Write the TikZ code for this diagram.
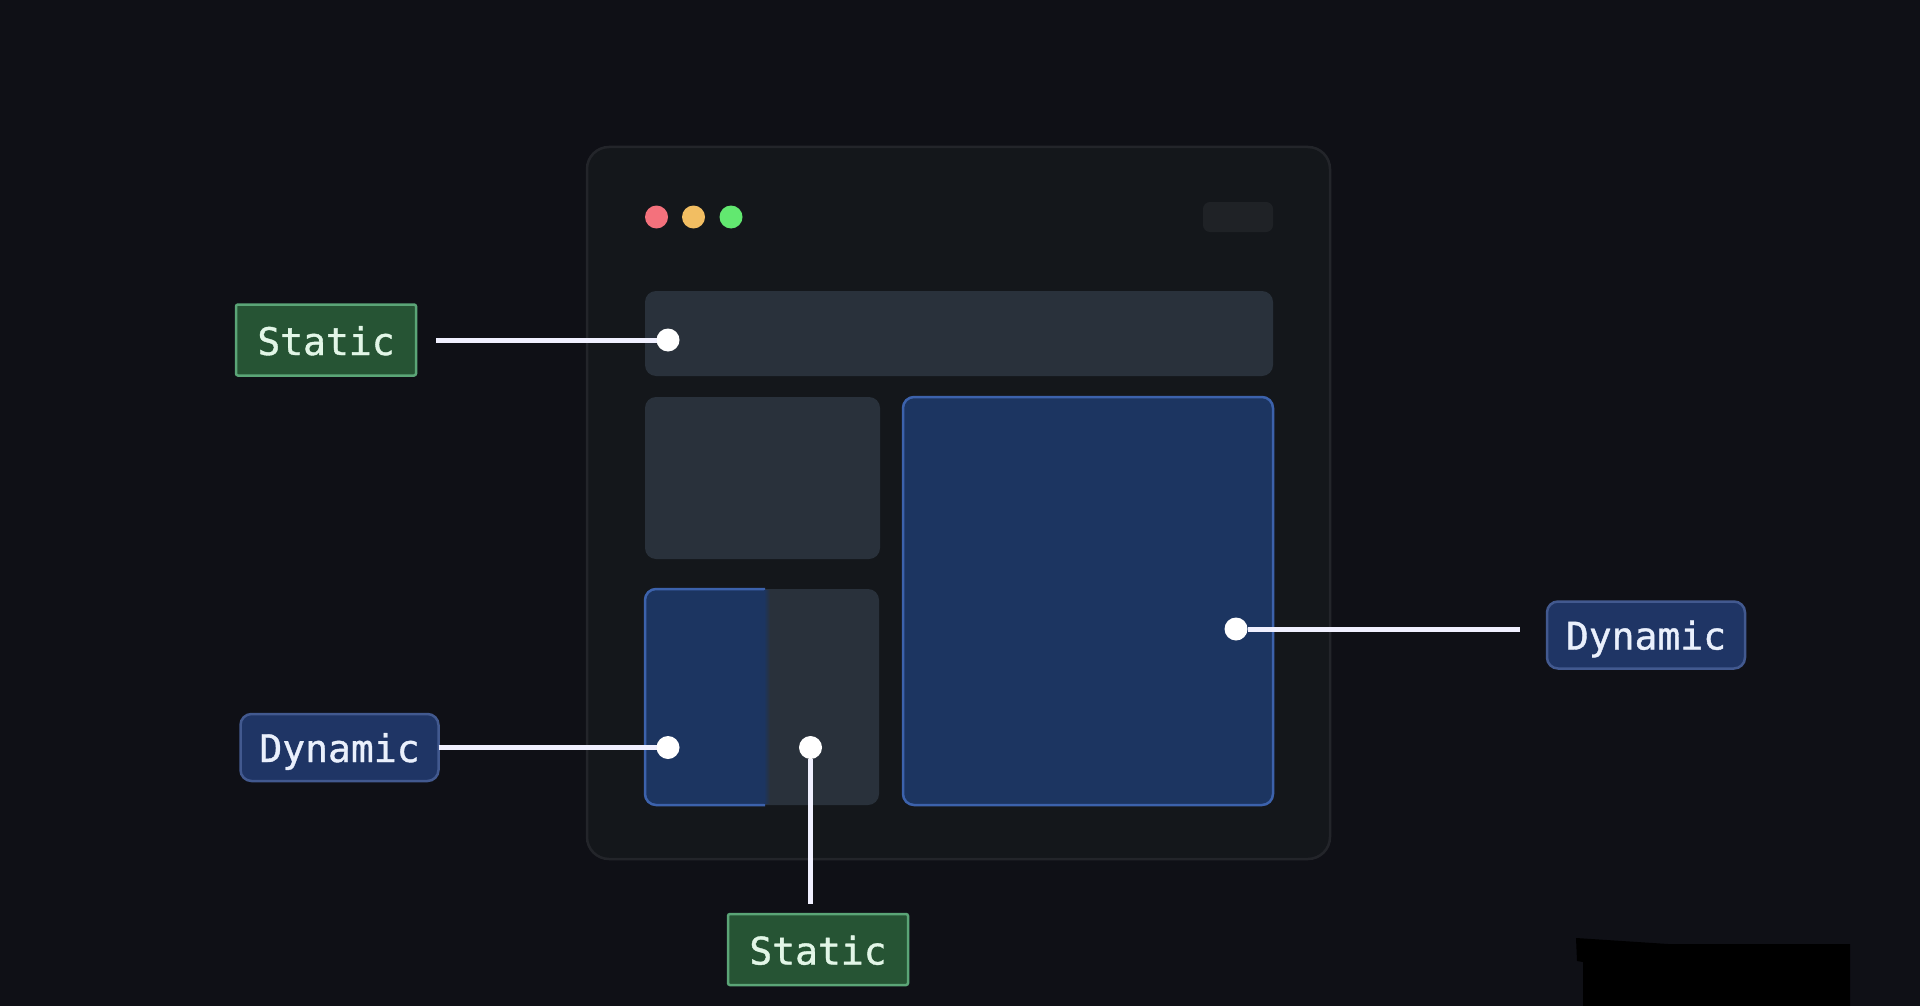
\documentclass[tikz,border=0pt]{standalone}
\usepackage{fontspec}
\newfontfamily\labelfont[FakeBold=1]{DejaVu Sans Mono}
\usepackage{tikz}
\definecolor{PageBg}{HTML}{0F1016}
\definecolor{WindowBg}{HTML}{14171B}
\definecolor{WindowLine}{HTML}{23252A}
\definecolor{PillBg}{HTML}{1F2226}
\definecolor{PanelBg}{HTML}{29313B}
\definecolor{BlueBg}{HTML}{1C3561}
\definecolor{BlueLine}{HTML}{3C62AC}
\definecolor{StaticBg}{HTML}{265434}
\definecolor{StaticLine}{HTML}{5BA577}
\definecolor{StaticText}{HTML}{E2F6E7}
\definecolor{DynamicBg}{HTML}{1F3565}
\definecolor{DynamicLine}{HTML}{42598F}
\definecolor{DynamicText}{HTML}{EAF0FC}
\tikzstyle{box}       = [rectangle, inner sep=0pt, outer sep=0pt]
\tikzstyle{window}    = [box, minimum width=743pt, minimum height=712pt, rounded corners=22pt, fill=WindowBg, draw=WindowLine, line width=2.5pt]
\tikzstyle{panel}     = [box, rounded corners=11pt, fill=PanelBg]
\tikzstyle{bluepanel} = [box, rounded corners=11pt, fill=BlueBg, draw=BlueLine, line width=2.5pt]
\tikzstyle{light}     = [circle, inner sep=0pt, minimum size=23pt]
\tikzstyle{knob}      = [circle, inner sep=0pt, outer sep=0pt, minimum size=23pt, fill=white]
\tikzstyle{static}    = [box, minimum width=180pt, minimum height=71pt, rounded corners=2pt, fill=StaticBg, draw=StaticLine, line width=2.5pt, text=StaticText, text height=30pt, text depth=0pt, font=\labelfont\fontsize{38}{40}\selectfont]
\tikzstyle{dynamic}   = [box, minimum width=198pt, minimum height=67pt, rounded corners=11pt, fill=DynamicBg, draw=DynamicLine, line width=2.5pt, text=DynamicText, text height=29pt, text depth=0pt, font=\labelfont\fontsize{38}{40}\selectfont]
\tikzstyle{wire}      = [line width=5pt, white!94!blue]

\begin{document}
\begin{tikzpicture}[x=1pt, y=-1pt]
  \useasboundingbox (0,0) rectangle (1920,1006);
  \fill[PageBg] (0,0) rectangle (1920,1006);
  \fill[black] (1576,938) -- (1668,944) -- (1850,944) -- (1850,1006) -- (1583,1006) -- (1583,962) -- (1577,961) -- cycle;

  \node[window] (Window) at (958.5,503) {};
  \foreach \x/\c/\n in {656.5/F4717C/Red, 693.5/F2BE62/Yellow, 731/62E870/Green} {
      \definecolor{LightBg}{HTML}{\c}
      \node[light, fill=LightBg] (\n) at (\x,217) {};
  }
  \node[box, minimum width=70pt, minimum height=30pt, rounded corners=7pt, fill=PillBg] (Pill) at (1238,217) {};

  \node[panel, minimum width=628pt, minimum height=85pt] (TopBar) at (959,333.5) {};
  \node[panel, minimum width=235pt, minimum height=162pt] (SidePanel) at (762.5,478) {};
  \node[panel, minimum width=234pt, minimum height=216pt] (LowerPanel) at (762,697) {};
  \filldraw[BlueBg, draw=BlueLine, line width=2.5pt] (765,589) [rounded corners=11pt] -- (645,589) -- (645,805) [sharp corners] -- (765,805);
  \shade[left color=BlueBg, right color=PanelBg] (764,590.3) rectangle (770,803.7);
  \node[bluepanel, minimum width=370pt, minimum height=408pt] (MainPanel) at (1088,601) {};

  \node[static] (StaticTop) at (326,340) {Static};
  \node[static] (StaticBottom) at (818,949.5) {Static};
  \node[dynamic] (DynamicLeft) at (339.5,747.5) {Dynamic};
  \node[dynamic] (DynamicRight) at (1646,635) {Dynamic};

  \node[knob] (KnobTop) at (668,340) {};
  \node[knob] (KnobLeft) at (668,747.5) {};
  \node[knob] (KnobMiddle) at (810.5,747.5) {};
  \node[knob] (KnobRight) at (1236,629) {};

  \coordinate (StaticTopEnd) at (436,340);
  \coordinate (StaticBottomEnd) at (810.5,904);
  \coordinate (DynamicRightEnd) at (1520,629);
  \draw[wire] (StaticTopEnd) -- (KnobTop);
  \draw[wire] (DynamicLeft.east) -- (KnobLeft);
  \draw[wire] (KnobMiddle) -- (StaticBottomEnd);
  \draw[wire] (KnobRight) -- (DynamicRightEnd);
\end{tikzpicture}
\end{document}
